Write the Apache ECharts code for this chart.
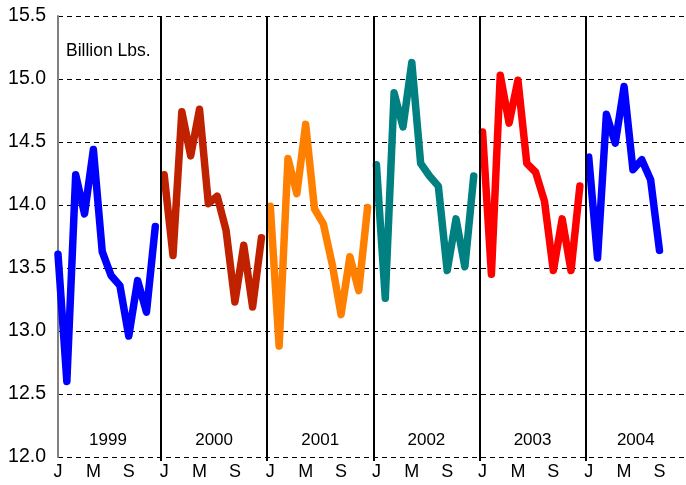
<!DOCTYPE html>
<html>
<head>
<meta charset="utf-8">
<script src="https://cdn.jsdelivr.net/npm/echarts@6/dist/echarts.min.js"></script>
<style>
html,body{margin:0;padding:0;background:#fff;}
#chart{width:686px;height:485px;}
</style>
</head>
<body>
<div id="chart"></div>
<script>
const years = ['1999', '2000', '2001', '2002', '2003', '2004'];
const monthLetters = ['J', 'F', 'M', 'A', 'M', 'J', 'J', 'A', 'S', 'O', 'N', 'D'];
const y1999 = [13.61, 12.60, 14.24, 13.93, 14.44, 13.63, 13.44, 13.36, 12.96, 13.40, 13.15, 13.83];
const y2000 = [14.24, 13.60, 14.74, 14.39, 14.76, 14.01, 14.07, 13.80, 13.23, 13.68, 13.19, 13.74];
const y2001 = [13.99, 12.88, 14.37, 14.09, 14.64, 13.97, 13.85, 13.53, 13.13, 13.59, 13.32, 13.98];
const y2002 = [14.32, 13.26, 14.89, 14.62, 15.13, 14.33, 14.23, 14.15, 13.48, 13.89, 13.51, 14.23];
const y2003 = [14.58, 13.45, 15.03, 14.65, 14.99, 14.33, 14.26, 14.03, 13.48, 13.89, 13.48, 14.15];
const y2004 = [14.38, 13.58, 14.72, 14.49, 14.94, 14.28, 14.36, 14.20, 13.64];
const yearValues = [y1999, y2000, y2001, y2002, y2003, y2004];
const colors = ['#0000FF', '#C02200', '#FF8000', '#008080', '#FF0000', '#0000FF'];
const unitLabel = 'Billion Lbs.';

const X_MAX = 71;
const SEP_OFFSET = 11.65;
const FONT = 'Liberation Sans, Arial, sans-serif';

const separators = [];
for (let k = 0; k < years.length - 1; k++) separators.push(SEP_OFFSET + 12 * k);

const series = yearValues.map((vals, i) => ({
  type: 'line',
  name: years[i],
  data: vals.map((v, m) => [i * 12 + m, v]),
  symbol: 'none',
  lineStyle: { color: colors[i], width: 7.5, cap: 'round', join: 'round' },
  z: 3,
  animation: false
}));

series.push({
  type: 'line',
  data: [],
  silent: true,
  markLine: {
    symbol: 'none',
    silent: true,
    animation: false,
    label: { show: false },
    lineStyle: { color: '#000', width: 2, type: 'solid' },
    data: separators.map(s => ({ xAxis: s }))
  },
  z: 2
});

const chart = echarts.init(document.getElementById('chart'), null, { renderer: 'canvas' });
chart.setOption({
  backgroundColor: '#fff',
  animation: false,
  grid: { left: 58, right: 0, top: 16, bottom: 28, containLabel: false },
  xAxis: {
    type: 'value',
    min: 0,
    max: X_MAX,
    interval: 4,
    axisLine: { show: false },
    axisTick: { show: true, customValues: separators, length: 4, lineStyle: { color: '#000', width: 2 } },
    splitLine: { show: false },
    axisLabel: {
      color: '#000',
      fontSize: 18,
      fontFamily: FONT,
      margin: 6,
      showMaxLabel: false,
      formatter: v => monthLetters[Math.round(v) % 12]
    }
  },
  yAxis: {
    type: 'value',
    min: 12,
    max: 15.5,
    interval: 0.5,
    axisLine: { show: true, lineStyle: { color: '#808080', width: 2 } },
    axisTick: { show: false },
    splitLine: { show: true, lineStyle: { color: '#000', width: 1, type: [5, 4] } },
    axisLabel: {
      color: '#000',
      fontSize: 19.5,
      fontFamily: FONT,
      margin: 12,
      formatter: v => v.toFixed(1)
    }
  },
  series: series
});

// year labels centred in each year band, placed through the axis scales
const bounds = [-0.35].concat(separators).concat([X_MAX]);
const graphics = [{
  type: 'text',
  left: 66,
  top: 42,
  style: { text: unitLabel, fill: '#000', font: '17.5px ' + FONT }
}];
years.forEach((y, i) => {
  const p = chart.convertToPixel({ gridIndex: 0 }, [(bounds[i] + bounds[i + 1]) / 2, 12.135]);
  graphics.push({
    type: 'text',
    x: p[0],
    y: p[1],
    style: { text: y, fill: '#000', font: '17px ' + FONT, textAlign: 'center', textVerticalAlign: 'middle' }
  });
});
chart.setOption({ graphic: graphics });
</script>
</body>
</html>
